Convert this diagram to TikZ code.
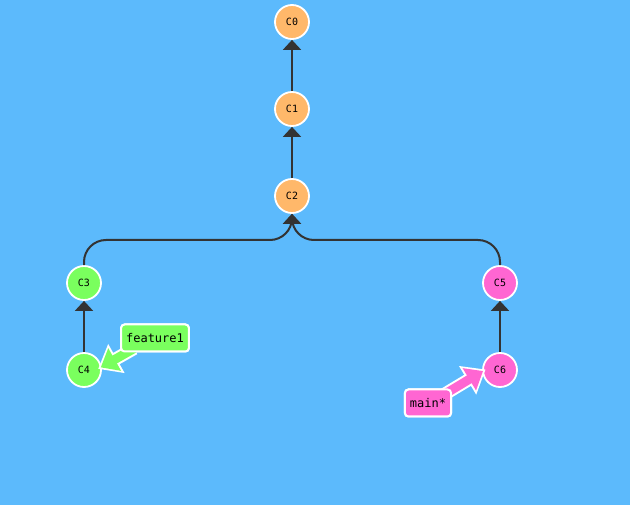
\documentclass[tikz,border=0pt]{standalone}
\usepackage{fontspec}
\setmonofont{DejaVu Sans Mono}
\usetikzlibrary{arrows.meta,calc}
\definecolor{fondo}{RGB}{92,186,252}
\definecolor{naranja}{RGB}{255,184,106}
\definecolor{verde}{RGB}{122,255,94}
\definecolor{rosa}{RGB}{255,102,210}
\definecolor{linea}{RGB}{51,51,51}
\tikzset{
  commit/.style={circle,draw=white,line width=1.8pt,minimum size=34pt,inner sep=0pt,font=\ttfamily\fontsize{10}{12}\selectfont},
  rama/.style={rounded corners=3.5pt,draw=white,line width=2pt,minimum height=27pt,inner sep=5pt,font=\ttfamily\fontsize{12}{14}\selectfont},
  padre/.style={draw=linea,line width=2pt,-{Triangle[width=18pt,length=10pt]}},
  bordeflecha/.style={white,line width=13pt,shorten >=-4pt,-{Triangle[width=32pt,length=21pt]}},
  flecha/.style={line width=9pt,shorten >=-1pt,-{Triangle[width=25pt,length=16pt]}},
}
\begin{document}
\begin{tikzpicture}[x=1pt,y=-1pt]
		%fondo
		\fill[fondo] (0,0) rectangle (630,505);
		\useasboundingbox (0,0) rectangle (630,505);
		%%%% COMMITS
		\node[commit,fill=naranja] at (292,22) (c0) {C0};
		\node[commit,fill=naranja] at (292,109) (c1) {C1};
		\node[commit,fill=naranja] at (292,196) (c2) {C2};
		\node[commit,fill=verde] at (84,283) (c3) {C3};
		\node[commit,fill=verde] at (84,370) (c4) {C4};
		\node[commit,fill=rosa] at (500,283) (c5) {C5};
		\node[commit,fill=rosa] at (500,370) (c6) {C6};
		%%%% ARISTAS
		\draw[padre] (c1) -- (c0);
		\draw[padre] (c2) -- (c1);
		\draw[padre] (c4) -- (c3);
		\draw[padre] (c6) -- (c5);
		\draw[padre,rounded corners=22pt] (c3.north) |- (292,240) -- (c2.south);
		\draw[padre,rounded corners=22pt] (c5.north) |- (292,240) -- (c2.south);
		%%%% RAMAS
		\node[rama,fill=verde] at (155,338) (feature) {feature1};
		\node[rama,fill=rosa] at (428,403) (main) {main*};
		\coordinate (colaf) at ($(feature.south west)+(14,-4)$);
		\coordinate (colam) at ($(main.north east)+(-8,6)$);
		\draw[bordeflecha] (colaf) -- (c4.10);
		\draw[flecha,verde] (colaf) -- (c4.10);
		\draw[bordeflecha] (colam) -- (c6.185);
		\draw[flecha,rosa] (colam) -- (c6.185);
		%cajas encima
		\node[rama,fill=verde] at (155,338) () {feature1};
		\node[rama,fill=rosa] at (428,403) () {main*};
\end{tikzpicture}
\end{document}
